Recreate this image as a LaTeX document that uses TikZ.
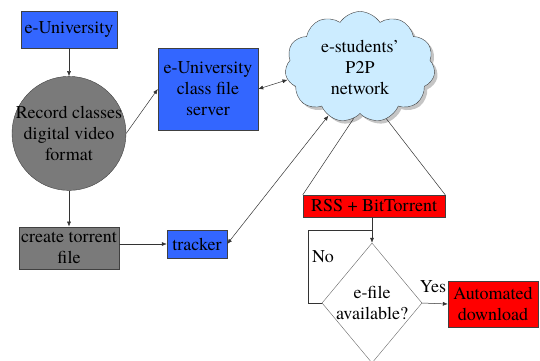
\documentclass[tikz,border=0pt]{standalone}
\usepackage{fontspec}
\setmainfont{texgyretermes}[Extension=.otf, UprightFont=*-regular]
\usepackage{tikz}
\usetikzlibrary{positioning,calc,arrows.meta,shapes.geometric,shapes.symbols,shadows}

\definecolor{unblue}{RGB}{51,102,255}
\definecolor{cloudblue}{RGB}{204,236,255}
\definecolor{recgrey}{RGB}{122,122,122}
\definecolor{dlred}{RGB}{255,0,0}

\tikzset{
  every node/.style={font=\fontsize{18}{21}\selectfont, align=center, inner sep=0pt},
  bluebox/.style={draw=black!75, fill=unblue},
  greybox/.style={draw=black!75, fill=recgrey},
  redbox/.style={draw=black!75, fill=dlred},
  link/.style={draw=black!80, line width=0.5pt},
  arr/.style={link, -{Latex[length=5pt,width=4pt]}},
  twoarr/.style={link, {Latex[length=5pt,width=4pt]}-{Latex[length=5pt,width=4pt]}},
}

\begin{document}
\begin{tikzpicture}[x=1pt, y=-1pt]
    \clip (0,0) rectangle (540,360);
    \useasboundingbox (0,0) rectangle (540,360);

      \node[bluebox, minimum width=96pt, minimum height=37pt] (uni) at (69,29.5) {e-University};
      \node[circle, draw=black!75, fill=recgrey, inner sep=-5pt, minimum size=114pt,
            below = 28pt of uni] (rec) {Record classes\\digital video\\format};
      \node[greybox, minimum width=100pt, minimum height=42pt, below = 36pt of rec] (tor)
            {create torrent\\file};

      \node[bluebox, minimum width=100pt, minimum height=82pt] (srv) at (208,89)
            {e-University\\class file\\server};
      \node[bluebox, minimum width=60pt, minimum height=28pt] (trk) at (197,244) {tracker};

      \node[cloud, cloud puffs=11, cloud puff arc=115, cloud ignores aspect,
            draw=black!75, fill=cloudblue, minimum width=150pt, minimum height=111pt,
            drop shadow={shadow xshift=3pt, shadow yshift=-3pt, fill=black!45}]
            (cld) at (360,67) {e-students’\\P2P\\network};

      \node[redbox, minimum width=142pt, minimum height=22pt] (rss) at (374,206) {RSS + BitTorrent};
      \node[diamond, draw=black!60, inner sep=-6pt, minimum width=100pt, minimum height=120pt]
            (dec) at (372,303) {e-file\\available?};
      \node[redbox, minimum width=90pt, minimum height=46pt] (dl) at (493,304) {Automated\\download};

      \node (no) at (323,257) {No};
      \node (yes) at (433,287) {Yes};

      \coordinate (join) at ($(rss.south)!0.5!(dec.north)$);

      \draw[arr] (uni) -- (rec);
      \draw[arr] (rec) -- (tor);
      \draw[arr] (rec.east) -- (srv.west);
      \draw[arr] (tor.east |- trk) -- (trk);

      \draw[twoarr] (srv.east) -- (cld.190);
      \draw[twoarr] (trk.east) -- (cld.237);

      \draw[link] (cld.263) -- (rss.north west);
      \draw[link] (cld.297) -- (rss.north east);

      \draw[arr] (rss.south -| dec.north) -- (dec.north);
      \draw[link] (dec.west) -- ++(-14,0) |- (join);
      \draw[arr] (dec.east) -- (dl.west);
\end{tikzpicture}
\end{document}
